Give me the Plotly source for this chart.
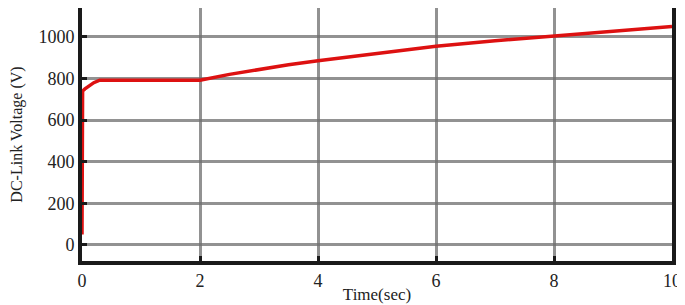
import plotly.graph_objects as go

time_s = [0, 0.005, 0.01, 0.05, 0.1, 0.2, 0.3, 1.0, 2.0, 2.5, 3.0, 3.5, 4.0, 5.0, 6.0, 7.0, 8.0, 9.0, 10.0]
voltage_v = [50, 600, 740, 750, 760, 780, 792, 792, 792, 820, 845, 866, 885, 922, 955, 982, 1005, 1028, 1050]

x_ticks = [0, 2, 4, 6, 8, 10]
y_ticks = [0, 200, 400, 600, 800, 1000]

fig = go.Figure()
fig.add_trace(go.Scatter(x=time_s, y=voltage_v, mode="lines",
                         line=dict(color="#dd1111", width=3.5), showlegend=False))

serif = "Liberation Serif, Times New Roman, serif"
tickfont = dict(family=serif, color="#222", size=18)

fig.update_layout(
    width=677, height=297,
    margin=dict(l=74, r=13, t=0, b=44),
    paper_bgcolor="white", plot_bgcolor="white",
    font=dict(family=serif, color="#222", size=18),
    xaxis=dict(range=[0, 10], tickvals=x_ticks, showgrid=True, gridcolor="rgba(110,110,110,0.75)",
               gridwidth=3, showline=True, linecolor="#1a1a1a", linewidth=4,
               ticks="inside", ticklen=5, tickwidth=3, tickcolor="#1a1a1a",
               zeroline=False, tickfont=tickfont,
               title=dict(text="Time(sec)", standoff=0, font=dict(family=serif, size=17))),
    yaxis=dict(range=[-77, 1139], tickvals=y_ticks, showgrid=True, gridcolor="rgba(110,110,110,0.75)",
               gridwidth=3, showline=True, linecolor="#1a1a1a", linewidth=4, mirror=True,
               ticks="inside", ticklen=5, tickwidth=3, tickcolor="#1a1a1a",
               zeroline=False, tickfont=tickfont,
               title=dict(text="DC-Link Voltage (V)", standoff=18, font=dict(family=serif, size=16))),
)

fig.write_html("out.html")
